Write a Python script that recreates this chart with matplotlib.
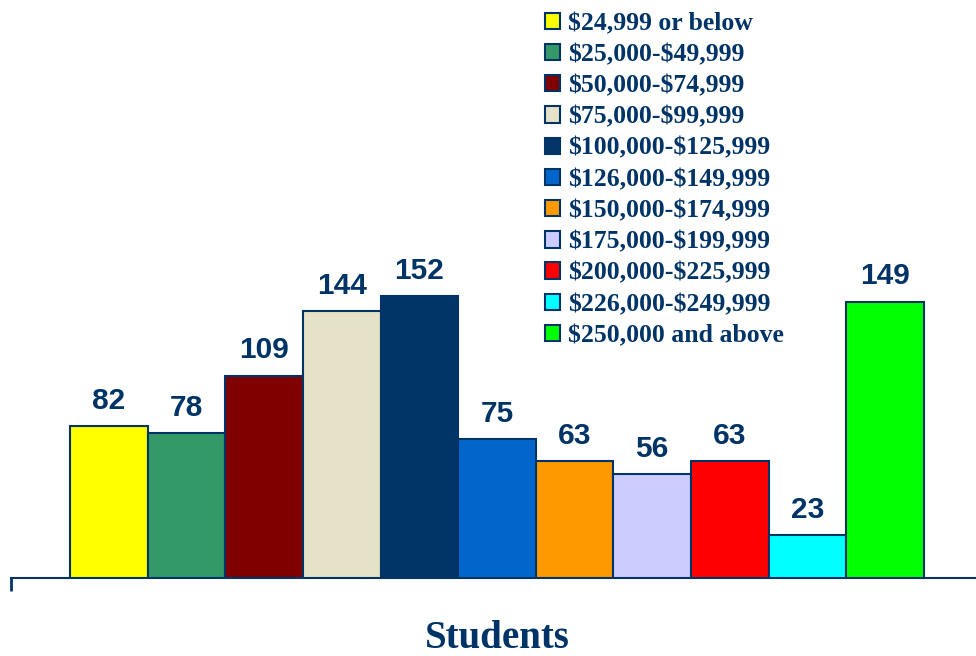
import matplotlib.pyplot as plt
from matplotlib.patches import Patch

plt.rcParams['text.parse_math'] = False

# income brackets and student counts
brackets = ["$24,999 or below", "$25,000-$49,999", "$50,000-$74,999",
            "$75,000-$99,999", "$100,000-$125,999", "$126,000-$149,999",
            "$150,000-$174,999", "$175,000-$199,999", "$200,000-$225,999",
            "$226,000-$249,999", "$250,000 and above"]
students = [82, 78, 109, 144, 152, 75, 63, 56, 63, 23, 149]
colors = ["#FFFF00", "#339966", "#800000", "#E6E2C8", "#003366", "#0066CC",
          "#FF9900", "#CCCCFF", "#FF0000", "#00FFFF", "#00FF00"]

NAVY = "#003366"

fig = plt.figure(figsize=(9.76, 6.56), dpi=100)
ax = fig.add_axes([11 / 976, 78 / 656, 965 / 976, 578 / 656])

xs = list(range(len(students)))
ax.bar(xs, students, width=1.0, color=colors, edgecolor=NAVY, linewidth=1.5, zorder=3)

for x, v in zip(xs, students):
    ax.annotate(str(v), (x, v), xytext=(0, 12.5), textcoords="offset points",
                ha="center", va="baseline", fontsize=21.5, fontweight="bold",
                color=NAVY, family="Liberation Sans")

ax.set_xlim(-1.26, 11.17)
ax.set_ylim(0, 311.6)

for s in ["top", "right", "left"]:
    ax.spines[s].set_visible(False)
ax.spines["bottom"].set_color(NAVY)
ax.spines["bottom"].set_linewidth(1.5)
ax.set_yticks([])
ax.set_xticks([-1.26])
ax.set_xticklabels([""])
ax.tick_params(axis="x", direction="out", length=9, width=2, color=NAVY)

fig.text(497 / 976, 8 / 656, "Students", ha="center", va="baseline", fontsize=28,
         fontweight="bold", color=NAVY, family="Liberation Serif")

handles = [Patch(facecolor=c, edgecolor=NAVY, linewidth=1.5) for c in colors]
leg = ax.legend(handles, brackets, loc="upper left",
                bbox_to_anchor=(532 / 976, 1 + 1 / 656), bbox_transform=fig.transFigure,
                frameon=False, borderpad=0, handlelength=0.6, handleheight=0.6,
                handletextpad=0.3, labelspacing=0.32,
                prop={"family": "Liberation Serif", "weight": "bold", "size": 18.5})
for t in leg.get_texts():
    t.set_color(NAVY)

fig.savefig("out.png", dpi=100)
